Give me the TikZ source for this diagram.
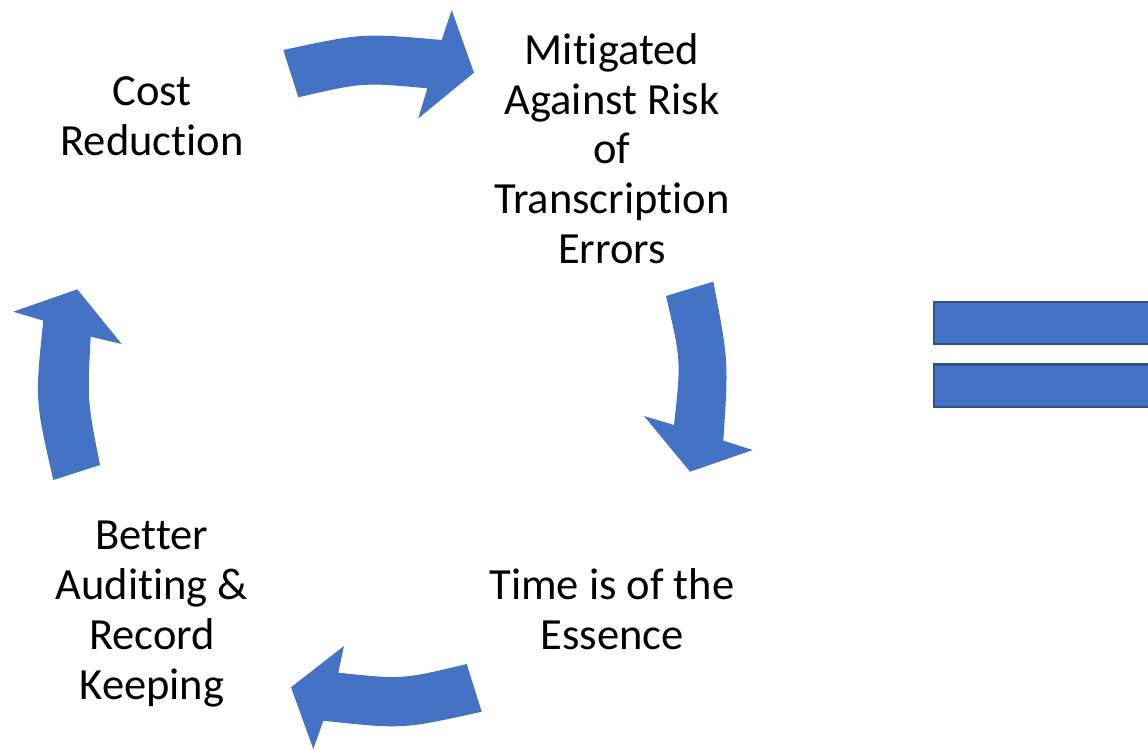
\documentclass[tikz,border=0pt]{standalone}
\usepackage{fontspec}
\setmainfont{Carlito}[Ligatures=NoCommon]
\definecolor{arrowblue}{HTML}{4472C4}
\definecolor{edgeblue}{HTML}{2F528F}
\begin{document}
\begin{tikzpicture}[x=0.75pt,y=-0.75pt,
  lbl/.style={align=center, font=\fontsize{33.4}{37.3}\selectfont, inner sep=0pt},
  blockarrow/.style={fill=arrowblue, draw=none},
  bar/.style={fill=arrowblue, draw=edgeblue, line width=1.8pt}]
\useasboundingbox (0,0) rectangle (1148,749);
% labels
\node[lbl] (cost) at (152,116) {Cost\\Reduction};
\node[lbl] (mitig) at (612,148.5) {Mitigated\\Against Risk\\of\\Transcription\\Errors};
\node[lbl] (time) at (612,609) {Time is of the\\Essence};
\node[lbl] (audit) at (152,614) {Better\\Auditing \&\\Record\\Keeping};
% top arrow (right)
\fill[blockarrow] (283.3,50) .. controls (362.5,33) .. (441.7,40)
  -- (451.7,10) -- (474,72.7) -- (418.3,118.3) -- (427.3,88.3)
  .. controls (362.8,82.4) .. (298.3,97.3) -- cycle;
% right arrow (down)
\fill[blockarrow] (666,296) -- (713.3,281.7) .. controls (728.6,361.2) .. (723.3,440.7)
  -- (752.7,450) -- (690,471.7) -- (644,416) -- (674,425)
  .. controls (681.1,360.5) .. (666,296) -- cycle;
% bottom arrow (left)
\fill[blockarrow] (466.7,664) -- (481.7,711.7) .. controls (402.5,729.3) .. (323.3,720.7)
  -- (313.3,749) -- (291,687.3) -- (344,646) -- (338.3,672.7)
  .. controls (402.5,679.5) .. (466.7,664) -- cycle;
% left arrow (up)
\fill[blockarrow] (53.3,480) -- (100,465) .. controls (87.3,400.8) .. (90.7,336.7)
  -- (121.7,344) -- (77.3,289.3) -- (13.3,311.7) -- (43.3,320.7)
  .. controls (35,400.3) .. (53.3,480) -- cycle;
% equals sign
\begin{scope}
\clip (0,0) rectangle (1148,749);
\draw[bar] (934,302) rectangle (1160,344);
\draw[bar] (934,364.5) rectangle (1160,407);
\end{scope}
\end{tikzpicture}
\end{document}
